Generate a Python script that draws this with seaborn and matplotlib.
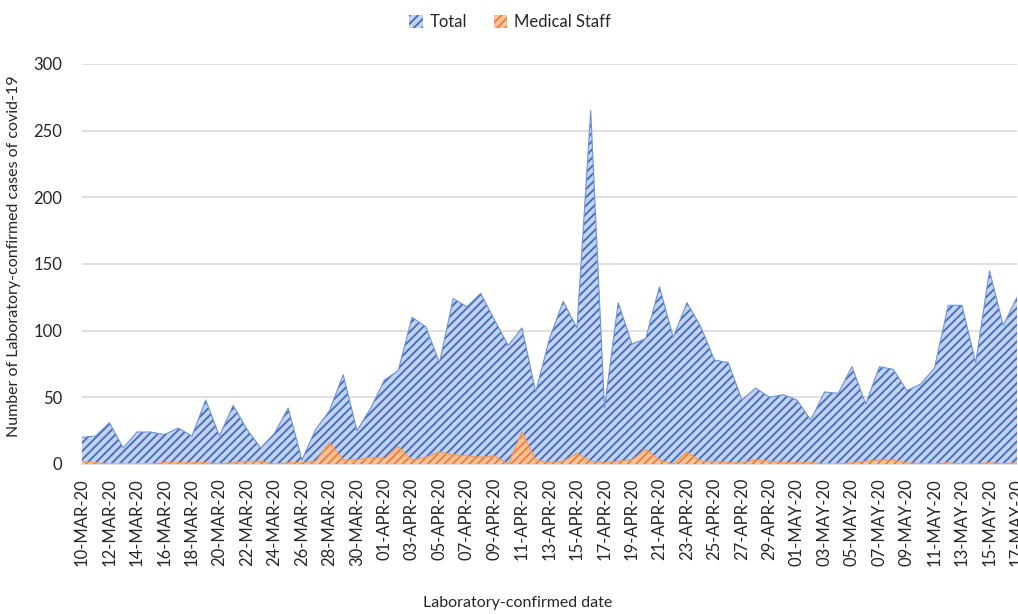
import matplotlib
matplotlib.use("Agg")
import matplotlib.pyplot as plt
import seaborn as sns
import pandas as pd

# daily laboratory-confirmed cases, 10-Mar-20 .. 17-May-20
dates = pd.date_range("2020-03-10", "2020-05-17", freq="D")
total = [20, 21, 31, 12, 24, 24, 22, 27, 21, 48,
         21, 44, 26, 12, 23, 42, 3, 26, 40, 67,
         25, 42, 63, 70, 110, 103, 76, 124, 118, 128,
         108, 89, 102, 54, 94, 122, 102, 265, 42, 121,
         90, 94, 133, 95, 121, 103, 78, 76, 48, 57,
         50, 52, 48, 33, 54, 53, 73, 45, 73, 71,
         55, 60, 72, 119, 119, 76, 145, 104, 125]
medical_staff = [2, 1, 0, 0, 0, 0, 1, 1, 1, 1,
                 0, 1, 2, 2, 0, 1, 1, 2, 16, 3,
                 3, 5, 4, 13, 3, 5, 9, 7, 6, 5,
                 6, 0, 24, 3, 1, 2, 8, 2, 1, 2,
                 3, 11, 3, 0, 9, 2, 2, 1, 1, 3,
                 2, 1, 1, 1, 0, 0, 1, 2, 3, 3,
                 1, 0, 0, 1, 0, 0, 1, 0, 1]
tick_labels = [d.strftime("%d-%b-%y").upper() for d in dates]
y_ticks = [0, 50, 100, 150, 200, 250, 300]

df = pd.DataFrame({"day": range(len(dates)), "Total": total, "Medical Staff": medical_staff})

sns.set_theme(style="whitegrid")
plt.rcParams['font.family'] = ['Lato', 'DejaVu Sans']
plt.rcParams['hatch.linewidth'] = 1.3

fig = plt.figure(figsize=(10.18, 6.14), dpi=100)
ax = fig.add_axes([0.0805, 0.2443, 0.9185, 0.6515])

# hatched area series, Excel style
ax.fill_between(df["day"], df["Total"], facecolor="#c3d2ef", edgecolor="#3f6cc0",
                hatch="////", linewidth=0, label="Total", zorder=2)
sns.lineplot(data=df, x="day", y="Total", color="#6f93d3", linewidth=0.8,
             legend=False, ax=ax, zorder=3)
ax.fill_between(df["day"], df["Medical Staff"], facecolor="#f7c29c", edgecolor="#ed7d31",
                hatch="////", linewidth=0, label="Medical Staff", zorder=4)
sns.lineplot(data=df, x="day", y="Medical Staff", color="#f09a5e", linewidth=0.8,
             legend=False, ax=ax, zorder=5)

ax.set_xlim(0, len(dates) - 1)
ax.set_ylim(0, 300)
ax.set_yticks(y_ticks)
ax.set_xticks(range(0, len(dates), 2))
ax.set_xticklabels(tick_labels[::2], rotation=90, fontsize=12)
ax.tick_params(axis='y', labelsize=12, pad=14, length=0)
ax.tick_params(axis='x', pad=10, length=0)

ax.grid(axis='x', visible=False)
ax.grid(axis='y', color='#d9d9d9', linewidth=1.2)
for side in ['top', 'right', 'left']:
    ax.spines[side].set_visible(False)
ax.spines['bottom'].set_color('#d9d9d9')
ax.spines['bottom'].set_linewidth(1.2)

ax.set_ylabel("Number of Laboratory-confirmed cases of covid-19", fontsize=11.5)
ax.yaxis.set_label_coords(-0.065, 0.52)
ax.set_xlabel("Laboratory-confirmed date", fontsize=11.5)
ax.xaxis.set_label_coords(0.466, -0.33)

handles, labels = ax.get_legend_handles_labels()
fig.legend(handles, labels, loc='center', bbox_to_anchor=(510 / 1018, 1 - 22 / 614),
           ncol=2, frameon=False, fontsize=12, handlelength=0.8, handleheight=0.8,
           handletextpad=0.4, columnspacing=1.6)

fig.savefig("out.png", dpi=100)
plt.close()
